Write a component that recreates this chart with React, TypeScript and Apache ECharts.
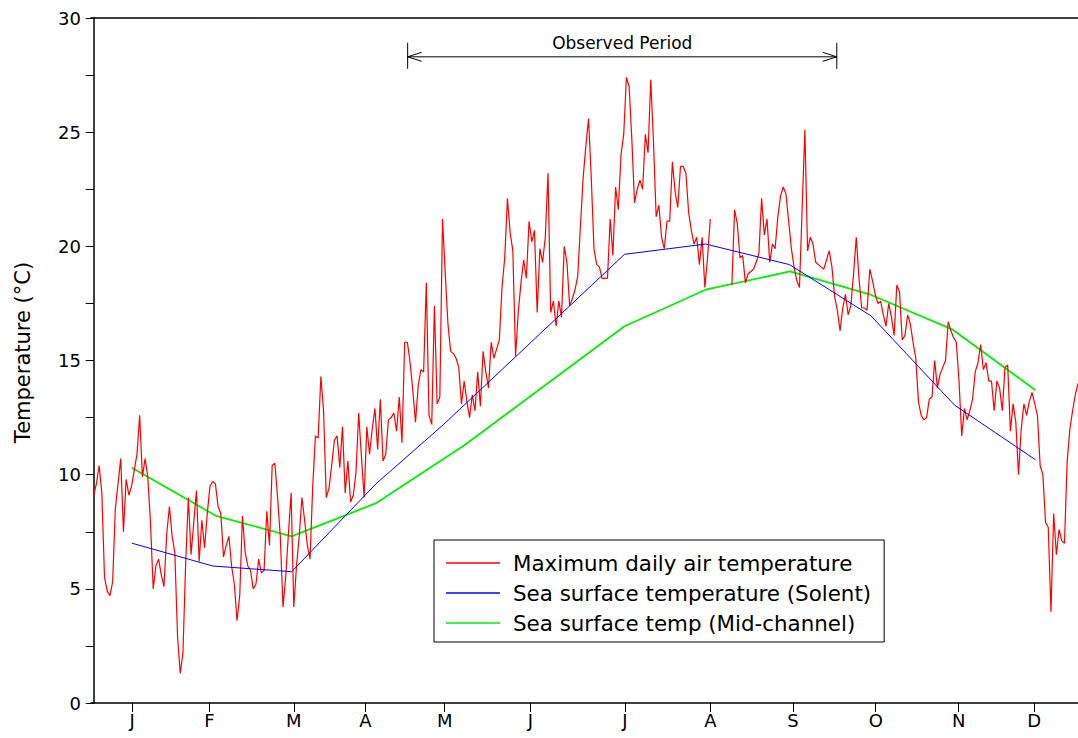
import React, { useEffect, useRef } from 'react';
import * as echarts from 'echarts';

const FONT = '"DejaVu Sans", sans-serif';

// Maximum daily air temperature, one value per day (day 0 = 1 Jan); null = missing
const airTemp: (number | null)[] = [
  9.1, 9.6, 10.4, 9.2, 5.5, 4.9, 4.7, 5.3, 8.5, 9.6,
  10.7, 7.5, 9.8, 9.1, 9.5, 10.2, 10.9, 12.6, 9.9, 10.7,
  9.9, 7.9, 5.0, 6.0, 6.3, 5.6, 5.1, 7.4, 8.6, 7.3,
  6.6, 2.9, 1.3, 2.2, 6.1, 9.0, 6.5, 7.9, 9.3, 6.2,
  8.0, 6.8, 8.3, 9.5, 9.7, 9.6, 8.6, 8.3, 6.4, 6.9,
  7.3, 6.0, 5.2, 3.6, 4.7, 8.2, 6.6, 6.0, 5.8, 5.0,
  5.2, 6.3, 5.7, 5.8, 8.4, 6.9, 10.4, 10.5, 9.0, 7.3,
  4.2, 5.5, 7.4, 9.2, 4.2, 6.0, 7.3, 9.0, 8.0, 6.9,
  6.3, 9.5, 11.7, 11.6, 14.3, 12.8, 9.0, 9.4, 10.4, 11.5,
  11.7, 10.3, 12.1, 9.2, 10.6, 8.8, 9.1, 10.1, 12.7, 10.8,
  9.0, 12.1, 10.9, 12.0, 12.9, 11.1, 13.3, 10.6, 10.9, 12.4,
  12.5, 12.7, 11.9, 13.4, 11.4, 15.8, 15.8, 14.9, 13.7, 12.3,
  13.9, 14.6, 14.5, 18.4, 12.6, 12.2, 17.4, 13.1, 13.4, 21.2,
  18.8, 16.6, 15.4, 15.3, 15.1, 14.7, 13.1, 14.1, 13.2, 12.5,
  13.5, 12.8, 14.5, 13.0, 15.4, 14.5, 13.8, 15.8, 15.1, 15.5,
  15.9, 18.2, 19.5, 22.1, 20.6, 19.8, 15.2, 17.1, 18.4, 19.4,
  18.6, 21.1, 20.2, 20.7, 17.1, 19.9, 19.3, 20.4, 23.2, 17.1,
  17.6, 16.5, 17.6, 16.9, 20.0, 19.3, 17.4, 17.7, 18.1, 18.7,
  20.9, 23.0, 24.4, 25.6, 23.0, 19.9, 19.2, 19.1, 18.6, 18.6,
  18.6, 21.2, 19.6, 22.6, 21.6, 24.0, 24.9, 27.4, 27.0, 24.7,
  21.9, 22.5, 22.9, 22.5, 24.9, 24.1, 27.3, 24.6, 21.3, 21.8,
  20.4, 19.9, 21.1, 21.1, 23.7, 22.4, 21.7, 23.5, 23.5, 23.2,
  21.5, 20.7, 20.1, 20.4, 19.2, 20.4, 18.2, 19.5, 21.2, null,
  null, null, null, null, null, null, 18.3, 21.6, 21.0, 19.5,
  19.6, 18.4, 18.8, 18.9, 19.0, 19.3, 19.7, 22.1, 20.5, 21.2,
  19.3, 20.1, 19.9, 21.3, 22.2, 22.6, 22.3, 21.1, 19.9, 19.1,
  18.5, 18.2, 21.7, 25.1, 19.8, 20.4, 20.1, 19.3, 19.2, 19.1,
  19.0, 19.4, 19.8, 19.1, 17.8, 17.2, 16.3, 17.3, 17.9, 17.0,
  17.4, 18.8, 20.4, 18.6, 17.3, 17.3, 17.2, 19.0, 18.5, 17.9,
  17.5, 17.6, 17.0, 16.5, 17.5, 16.9, 16.1, 18.3, 18.0, 15.9,
  16.1, 17.0, 16.6, 15.8, 15.1, 13.2, 12.6, 12.4, 12.5, 13.3,
  13.4, 15.0, 13.8, 14.4, 14.7, 15.0, 16.7, 16.3, 16.0, 15.8,
  14.1, 11.7, 12.9, 12.4, 12.8, 13.3, 14.5, 14.9, 15.7, 14.6,
  14.9, 14.1, 14.1, 12.8, 14.1, 13.8, 12.8, 14.7, 14.8, 11.9,
  13.1, 12.3, 10.0, 12.0, 13.1, 12.6, 13.2, 13.6, 13.1, 12.6,
  10.4, 10.0, 7.9, 7.7, 4.0, 8.3, 6.5, 7.6, 7.1, 7.0,
  10.6, 12.0, 12.8, 13.5, 14.0,
];

// Sea surface temperature (Solent): sampling day and value
const solentDays = [14.1, 44, 73.2, 104.4, 129.4, 196.3, 226.3, 257.3, 287.5, 318.3, 348.3];
const solentTemp = [7.0, 6.0, 5.75, 9.6, 12.2, 19.65, 20.1, 19.2, 16.95, 13.05, 10.65];

// Sea surface temperature (Mid-channel): sampling day and value
const midDays = [14.1, 45.2, 73.2, 104.4, 137.2, 196.3, 226.3, 257.5, 286.9, 317.7, 348.3];
const midTemp = [10.3, 8.2, 7.3, 8.75, 11.3, 16.5, 18.1, 18.9, 17.9, 16.35, 13.7];

// Month ticks (day of year) and their labels
const monthDays = [14.2, 42.8, 74, 100.5, 129.8, 161.5, 196.4, 228.1, 258.6, 289.2, 319.9, 347.8];
const monthLabels = ['J', 'F', 'M', 'A', 'M', 'J', 'J', 'A', 'S', 'O', 'N', 'D'];

// Observed period annotation (start day, end day, level)
const observedPeriod = [116.1, 274.8, 28.3];

const seriesNames = [
  'Maximum daily air temperature',
  'Sea surface temperature (Solent)',
  'Sea surface temp (Mid-channel)',
];
const seriesColors = ['#ff0000', '#0000ff', '#00ee00'];

export default function App() {
  const ref = useRef<HTMLDivElement>(null);
  useEffect(() => {
    const chart = echarts.init(ref.current as HTMLDivElement, null, { renderer: 'svg' });
    const axisBase = {
      type: 'value',
      min: -1,
      max: 364,
      splitLine: { show: false },
    };
    chart.setOption({
      animation: false,
      backgroundColor: '#ffffff',
      grid: { left: 91, right: 0, top: 18, bottom: 35, containLabel: false },
      xAxis: [
        {
          ...axisBase,
          position: 'bottom',
          axisLine: { show: true, onZero: false, lineStyle: { color: '#000', width: 1.5 } },
          axisTick: { show: true, length: 9, customValues: monthDays, lineStyle: { color: '#000', width: 1 } },
          axisLabel: {
            customValues: monthDays,
            formatter: (v: number) => {
              const i = monthDays.indexOf(v);
              return i >= 0 ? monthLabels[i] : '';
            },
            fontSize: 18,
            fontFamily: FONT,
            color: '#000',
            margin: 8,
          },
        },
        {
          ...axisBase,
          position: 'top',
          axisLine: { show: true, onZero: false, lineStyle: { color: '#000', width: 1.5 } },
          axisTick: { show: false },
          axisLabel: { show: false },
        },
      ],
      yAxis: {
        type: 'value',
        min: 0,
        max: 30,
        interval: 2.5,
        name: 'Temperature (°C)',
        nameLocation: 'middle',
        nameGap: 58,
        nameRotate: 90,
        nameTextStyle: { fontSize: 21, fontFamily: FONT, color: '#000', padding: [0, 0, 0, 16] },
        axisLine: { show: true, lineStyle: { color: '#000', width: 1.5 } },
        axisTick: { show: true, length: 8, lineStyle: { color: '#000', width: 1 } },
        axisLabel: {
          formatter: (v: number) => (v % 5 === 0 ? String(v) : ''),
          fontSize: 18,
          fontFamily: FONT,
          color: '#000',
          margin: 10,
        },
        splitLine: { show: false },
      },
      legend: {
        data: seriesNames.map((name, i) => ({
          name,
          icon: 'rect',
          itemStyle: { color: seriesColors[i], borderWidth: 0 },
        })),
        orient: 'vertical',
        left: 434,
        top: 540,
        backgroundColor: '#fff',
        borderColor: '#000',
        borderWidth: 1,
        padding: [12, 13, 8, 12],
        itemWidth: 54,
        itemHeight: 1.5,
        itemGap: 8,
        textStyle: { fontSize: 21.4, fontFamily: FONT, color: '#000', lineHeight: 22, padding: [0, 0, 0, 8] },
      },
      series: [
        {
          name: seriesNames[0],
          type: 'line',
          data: airTemp.map((v, i) => [i, v]),
          symbol: 'none',
          connectNulls: false,
          lineStyle: { color: seriesColors[0], width: 1.2 },
          itemStyle: { color: seriesColors[0] },
          z: 3,
        },
        {
          name: seriesNames[1],
          type: 'line',
          data: solentDays.map((d, i) => [d, solentTemp[i]]),
          symbol: 'none',
          lineStyle: { color: seriesColors[1], width: 1 },
          itemStyle: { color: seriesColors[1] },
          z: 4,
        },
        {
          name: seriesNames[2],
          type: 'line',
          data: midDays.map((d, i) => [d, midTemp[i]]),
          symbol: 'none',
          lineStyle: { color: seriesColors[2], width: 1.8 },
          itemStyle: { color: seriesColors[2] },
          z: 2,
        },
        {
          name: 'Observed Period',
          type: 'custom',
          silent: true,
          data: [observedPeriod],
          encode: { x: [0, 1], y: 2 },
          renderItem: (params: any, api: any) => {
            const p1 = api.coord([api.value(0), api.value(2)]);
            const p2 = api.coord([api.value(1), api.value(2)]);
            const y = p1[1];
            const stroke = { stroke: '#000', lineWidth: 1, fill: 'none' };
            return {
              type: 'group',
              children: [
                { type: 'line', shape: { x1: p1[0], y1: y, x2: p2[0], y2: y }, style: stroke },
                { type: 'line', shape: { x1: p1[0], y1: y - 14, x2: p1[0], y2: y + 12 }, style: stroke },
                { type: 'line', shape: { x1: p2[0], y1: y - 14, x2: p2[0], y2: y + 12 }, style: stroke },
                { type: 'polyline', shape: { points: [[p1[0] + 14, y - 4.5], [p1[0], y], [p1[0] + 14, y + 4.5]] }, style: stroke },
                { type: 'polyline', shape: { points: [[p2[0] - 14, y - 4.5], [p2[0], y], [p2[0] - 14, y + 4.5]] }, style: stroke },
                {
                  type: 'text',
                  x: (p1[0] + p2[0]) / 2,
                  y: y - 14,
                  style: {
                    text: 'Observed Period',
                    fontSize: 17,
                    fontFamily: FONT,
                    fill: '#000',
                    align: 'center',
                    verticalAlign: 'middle',
                  },
                },
              ],
            };
          },
          z: 5,
        },
      ],
    });
    return () => chart.dispose();
  }, []);
  return (
    <div
      ref={ref}
      style={{ position: 'fixed', left: 0, top: 0, width: 1078, height: 738, background: '#fff' }}
    />
  );
}
